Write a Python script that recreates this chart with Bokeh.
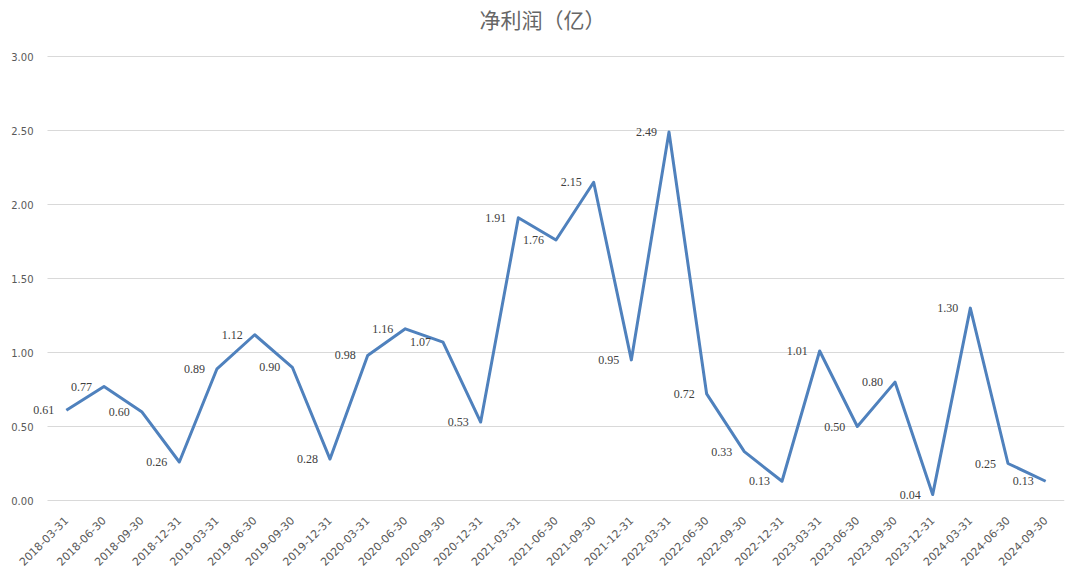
import math
from bokeh.plotting import figure
from bokeh.models import ColumnDataSource, Range1d, NumeralTickFormatter, FixedTicker, Title, LabelSet
from bokeh.embed import file_html
from bokeh.resources import INLINE

dates = ["2018-03-31", "2018-06-30", "2018-09-30", "2018-12-31",
         "2019-03-31", "2019-06-30", "2019-09-30", "2019-12-31",
         "2020-03-31", "2020-06-30", "2020-09-30", "2020-12-31",
         "2021-03-31", "2021-06-30", "2021-09-30", "2021-12-31",
         "2022-03-31", "2022-06-30", "2022-09-30", "2022-12-31",
         "2023-03-31", "2023-06-30", "2023-09-30", "2023-12-31",
         "2024-03-31", "2024-06-30", "2024-09-30"]
net_profit = [0.61, 0.77, 0.60, 0.26, 0.89, 1.12, 0.90, 0.28, 0.98, 1.16,
              1.07, 0.53, 1.91, 1.76, 2.15, 0.95, 2.49, 0.72, 0.33, 0.13,
              1.01, 0.50, 0.80, 0.04, 1.30, 0.25, 0.13]
labels = ["%.2f" % v for v in net_profit]
y_ticks = [0.0, 0.5, 1.0, 1.5, 2.0, 2.5, 3.0]

n = len(dates)
idx = list(range(n))
src = ColumnDataSource(dict(x=idx, y=net_profit, lab=labels))

# layout: category band width in px, frame extends left of first band for labels
frame_left, frame_right = 30, 1064
step = (1064 - 47) / n
x_start = -0.5 - (47 - frame_left) / step
ypx = 444 / 3.0
pad = 2 / ypx

p = figure(width=1080, height=575, x_range=Range1d(x_start, n - 0.5),
           y_range=Range1d(-pad, 3 + pad), output_backend="svg", toolbar_location=None,
           min_border_left=frame_left, min_border_right=1080 - frame_right,
           min_border_top=54, min_border_bottom=73)
p.title = Title(text="净利润（亿）", align="left", offset=449, text_font="Noto Sans CJK SC",
                text_font_size="21px", text_font_style="normal", text_color="#666666",
                standoff=0)
# spacer between title and plot frame
p.add_layout(Title(text=" ", text_font_size="1px", standoff=18), "above")
p.outline_line_color = None
p.background_fill_color = "white"
p.border_fill_color = "white"

# horizontal gridlines across the category bands only
p.segment(x0=[-0.5] * len(y_ticks), x1=[n - 0.5] * len(y_ticks), y0=y_ticks, y1=y_ticks,
          line_color="#d9d9d9", line_width=1)

p.line("x", "y", source=src, line_color="#4F81BD", line_width=3, line_join="round")
p.add_layout(LabelSet(x="x", y="y", text="lab", source=src, x_offset=-12, text_align="right",
                      text_baseline="middle", text_font="Liberation Serif",
                      text_font_size="12px", text_color="#404040"))

p.xgrid.grid_line_color = None
p.ygrid.grid_line_color = None
p.yaxis.ticker = FixedTicker(ticks=y_ticks)
p.yaxis.formatter = NumeralTickFormatter(format="0.00")
p.xaxis.ticker = FixedTicker(ticks=idx)
p.xaxis.major_label_overrides = {i: d for i, d in enumerate(dates)}
for ax in (p.xaxis[0], p.yaxis[0]):
    ax.axis_line_color = None
    ax.major_tick_line_color = None
    ax.minor_tick_line_color = None
    ax.major_label_text_color = "#595959"
    ax.major_label_text_font = "DejaVu Sans"
    ax.major_label_text_font_size = "10px"
p.xaxis.major_label_text_font_size = "11px"
p.yaxis.major_label_standoff = -9
p.xaxis.major_label_orientation = math.pi / 4
p.xaxis.major_label_standoff = 10

open("out.html", "w").write(file_html(p, INLINE))
